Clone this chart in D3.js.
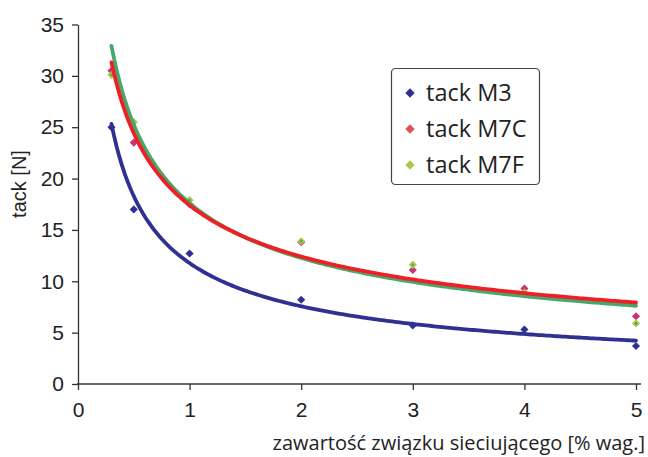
<!DOCTYPE html>
<html><head><meta charset="utf-8">
<script src="https://cdn.jsdelivr.net/npm/d3@7"></script>
<style>body{margin:0;background:#fff}svg{display:block}</style>
</head><body><svg id="c" width="648" height="457"></svg>
<script>
const xValues = [0.3, 0.5, 1, 2, 3, 4, 5];
const tackM3  = [25.0, 17.0, 12.7, 8.2, 5.7, 5.3, 3.7];
const tackM7C = [30.5, 23.5, 17.5, 13.8, 11.1, 9.3, 6.6];
const tackM7F = [30.1, 25.5, 17.9, 13.9, 11.6, 8.9, 5.9];
const seriesNames = ["tack M3", "tack M7C", "tack M7F"];
const xTicks = [0, 1, 2, 3, 4, 5];
const yTicks = [0, 5, 10, 15, 20, 25, 30, 35];

const series = [
  {name: seriesNames[0], values: tackM3,  marker: "#2e3192", legend: "#2e3192", line: "#2e3192"},
  {name: seriesNames[1], values: tackM7C, marker: "#c8327a", legend: "#e05252", line: "#ee2026"},
  {name: seriesNames[2], values: tackM7F, marker: "#a9c83e", legend: "#a9c84a", line: "#46a86a", dot: "#3aa0a0"}
];

const svg = d3.select("#c");
const x = d3.scaleLinear().domain([0, 5]).range([78, 636]);
const y = d3.scaleLinear().domain([0, 35]).range([384, 24.5]);

// power-law trendline (least squares on logs), as in spreadsheet trendlines
function powerFit(xs, ys) {
  const lx = xs.map(Math.log), ly = ys.map(Math.log);
  const mx = d3.mean(lx), my = d3.mean(ly);
  const b = d3.sum(lx.map((v, i) => (v - mx) * (ly[i] - my))) / d3.sum(lx.map(v => (v - mx) ** 2));
  const a = Math.exp(my - b * mx);
  return xv => a * Math.pow(xv, b);
}

// axes
const gx = svg.append("g").attr("transform", "translate(0,384)")
  .call(d3.axisBottom(x).tickValues(xTicks).tickSize(6).tickSizeOuter(0).tickFormat(d3.format("d")));
gx.select(".domain").remove();
gx.append("line").attr("x1", 77).attr("x2", 641).attr("stroke", "#333").attr("stroke-width", 1.3);
gx.selectAll(".tick line").attr("stroke", "#333").attr("stroke-width", 1.3);
gx.selectAll(".tick text").attr("fill", "#222").attr("font-family", "Liberation Sans, Arial, sans-serif")
  .attr("font-size", 21).attr("dy", "0.71em").attr("y", 18);

const gy = svg.append("g").attr("transform", "translate(78,0)")
  .call(d3.axisLeft(y).tickValues(yTicks).tickSize(6).tickSizeOuter(0));
gy.select(".domain").attr("stroke", "#333").attr("stroke-width", 1.3);
gy.selectAll(".tick line").attr("stroke", "#333").attr("stroke-width", 1.3);
gy.selectAll(".tick text").attr("fill", "#222").attr("font-family", "Liberation Sans, Arial, sans-serif")
  .attr("font-size", 21).attr("x", -14);

svg.append("text").attr("transform", "translate(26,184) rotate(-90)").attr("text-anchor", "middle")
  .attr("font-family", "Liberation Sans, Arial, sans-serif").attr("font-size", 20).attr("fill", "#222")
  .text("tack [N]");
svg.append("text").attr("x", 645).attr("y", 450).attr("text-anchor", "end")
  .attr("font-family", "'Open Sans', sans-serif").attr("font-size", 20).attr("fill", "#222")
  .text("zawartość związku sieciującego [% wag.]");

// markers
const diamond = d3.symbol().type(d3.symbolDiamond2).size(42);
series.forEach(s => {
  const g = svg.append("g");
  g.selectAll("path").data(xValues).join("path")
    .attr("d", diamond).attr("transform", (d, i) => `translate(${x(d)},${y(s.values[i])})`)
    .attr("fill", s.marker);
  if (s.dot) g.selectAll("circle").data(xValues).join("circle")
    .attr("cx", d => x(d)).attr("cy", (d, i) => y(s.values[i])).attr("r", 1.2).attr("fill", s.dot);
});

// trendlines
const line = d3.line().x(d => x(d[0])).y(d => y(d[1])).curve(d3.curveLinear);
[0, 2, 1].forEach(k => {
  const s = series[k];
  const f = powerFit(xValues, s.values);
  const pts = d3.range(0, 201).map(i => { const xv = 0.3 + (5 - 0.3) * i / 200; return [xv, f(xv)]; });
  svg.append("path").datum(pts).attr("d", line).attr("fill", "none")
    .attr("stroke", s.line).attr("stroke-width", 3.8).attr("stroke-linecap", "round");
});

// legend
const lg = svg.append("g");
lg.append("rect").attr("x", 391.5).attr("y", 68.5).attr("width", 148).attr("height", 116).attr("rx", 4)
  .attr("fill", "#fff").attr("stroke", "#444").attr("stroke-width", 1.2);
series.forEach((s, i) => {
  const cy = 93 + i * 36;
  lg.append("path").attr("d", d3.symbol().type(d3.symbolDiamond2).size(55)).attr("transform", `translate(410,${cy})`)
    .attr("fill", s.legend);
  lg.append("text").attr("x", 426).attr("y", cy).attr("dy", "0.36em")
    .attr("font-family", "'Open Sans', sans-serif").attr("font-size", 23.5).attr("fill", "#222").text(s.name);
});
</script></body></html>
